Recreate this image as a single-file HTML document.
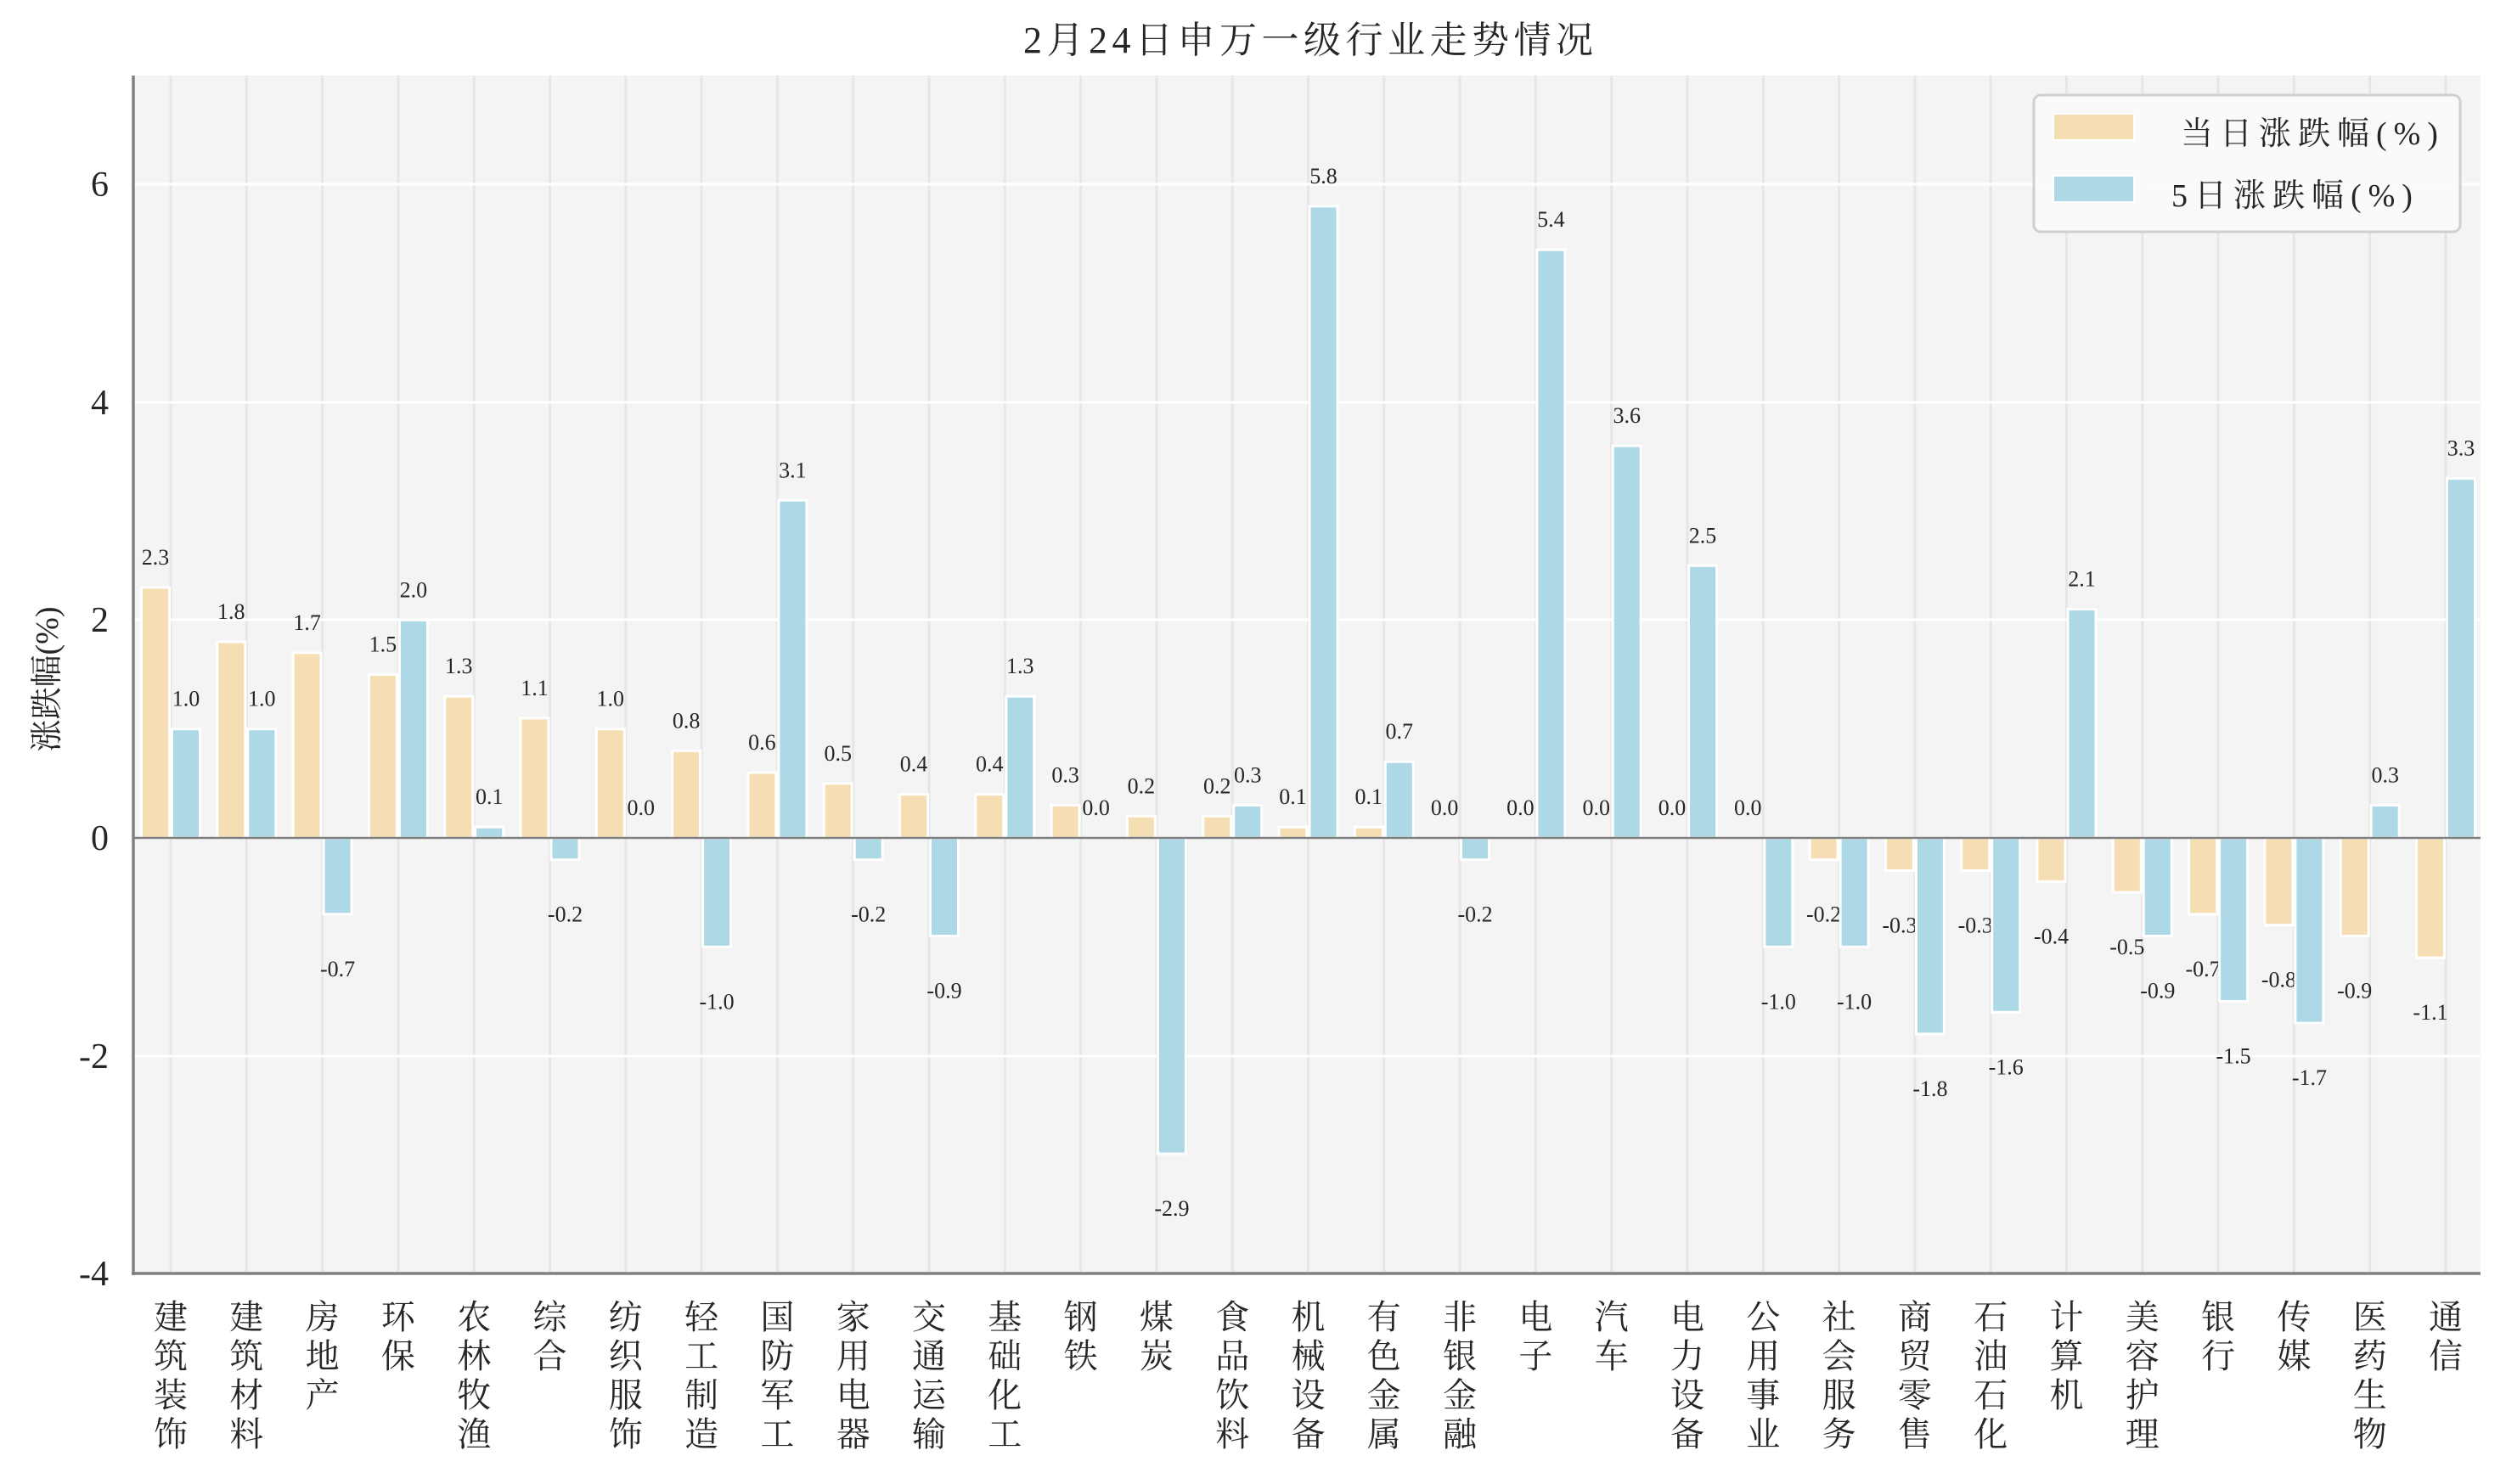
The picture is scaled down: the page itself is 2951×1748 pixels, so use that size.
<!DOCTYPE html>
<html><head><meta charset="utf-8"><style>
html,body{margin:0;padding:0;background:#fff;}
svg text{font-family:"Liberation Serif","Noto Serif CJK SC",serif;fill:#262626;}
</style></head><body>
<svg width="2951" height="1743" viewBox="0 0 2951 1743" xmlns="http://www.w3.org/2000/svg">
<rect x="0" y="0" width="2951" height="1743" fill="#fff"/>
<text x="1205" y="62" font-size="44" textLength="671" lengthAdjust="spacing">2月24日申万一级行业走势情况</text>
<rect x="157" y="89" width="2764" height="1411" fill="#f4f4f4"/>
<g stroke="#e6e6e6" stroke-width="3" id="vg"></g>
<g stroke="#ffffff" stroke-width="3">
<line x1="157" x2="2921" y1="217" y2="217"/>
<line x1="157" x2="2921" y1="474" y2="474"/>
<line x1="157" x2="2921" y1="730" y2="730"/>
<line x1="157" x2="2921" y1="1244" y2="1244"/>
</g>
<g id="bars"></g>
<line x1="157" x2="2921" y1="987" y2="987" stroke="#808080" stroke-width="2.5"/>
<line x1="157" x2="157" y1="89" y2="1502" stroke="#808080" stroke-width="3.5"/>
<line x1="155" x2="2921" y1="1500" y2="1500" stroke="#808080" stroke-width="3.5"/>
<g font-size="42" text-anchor="end">
<text x="128" y="231">6</text>
<text x="128" y="488">4</text>
<text x="128" y="744">2</text>
<text x="128" y="1001">0</text>
<text x="128" y="1258">-2</text>
<text x="128" y="1514">-4</text>
</g>
<text transform="translate(68,800) rotate(-90)" font-size="38" text-anchor="middle">涨跌幅(%)</text>
<g id="xl" font-size="40" text-anchor="middle"></g>
<rect x="2395" y="112" width="502" height="161" rx="8" fill="#fbfbfb" fill-opacity="0.9" stroke="#d0d0d0" stroke-width="3"/>
<rect x="2418" y="134" width="95" height="31" fill="#f5deb3" stroke="#fff" stroke-width="2"/>
<rect x="2418" y="207" width="95" height="31" fill="#add8e6" stroke="#fff" stroke-width="2"/>
<text x="2568" y="170" font-size="38" letter-spacing="8">当日涨跌幅(%)</text>
<text x="2557" y="243" font-size="38" letter-spacing="8">5日涨跌幅(%)</text>
<script>
var d=[["建筑装饰",2.3,1.0],["建筑材料",1.8,1.0],["房地产",1.7,-0.7],["环保",1.5,2.0],["农林牧渔",1.3,0.1],["综合",1.1,-0.2],["纺织服饰",1.0,0.0],["轻工制造",0.8,-1.0],["国防军工",0.6,3.1],["家用电器",0.5,-0.2],["交通运输",0.4,-0.9],["基础化工",0.4,1.3],["钢铁",0.3,0.0],["煤炭",0.2,-2.9],["食品饮料",0.2,0.3],["机械设备",0.1,5.8],["有色金属",0.1,0.7],["非银金融",0.0,-0.2],["电子",0.0,5.4],["汽车",0.0,3.6],["电力设备",0.0,2.5],["公用事业",0.0,-1.0],["社会服务",-0.2,-1.0],["商贸零售",-0.3,-1.8],["石油石化",-0.3,-1.6],["计算机",-0.4,2.1],["美容护理",-0.5,-0.9],["银行",-0.7,-1.5],["传媒",-0.8,-1.7],["医药生物",-0.9,0.3],["通信",-1.1,3.3]];
var NS="http://www.w3.org/2000/svg",Z=987,U=128.3;
function el(t,a,p,txt){var e=document.createElementNS(NS,t);for(var k in a)e.setAttribute(k,a[k]);if(txt!==undefined)e.textContent=txt;p.appendChild(e);return e;}
var vg=document.getElementById("vg"),bars=document.getElementById("bars"),xl=document.getElementById("xl");
d.forEach(function(r,i){
var cx=201+89.3*i;
el("line",{x1:cx,x2:cx,y1:89,y2:1500},vg);
[[r[1],cx-36,"#f5deb3"],[r[2],cx,"#add8e6"]].forEach(function(b){
var v=b[0],h=Math.abs(v)*U,y=v>=0?Z-h:Z;
el("rect",{x:b[1]+1.5,y:y,width:33,height:h,fill:b[2],stroke:"#fff","stroke-width":3},bars);
var ty=v>=0?Z-h-27:Z+h+73;
el("text",{x:b[1]+18,y:ty,"font-size":26,"text-anchor":"middle"},bars,v.toFixed(1));
});
var t=el("text",{x:cx,y:1565},xl);
r[0].split("").forEach(function(c,j){el("tspan",{x:cx,y:1565+46*j},t,c);});
});
</script>
</svg>
</body></html>
